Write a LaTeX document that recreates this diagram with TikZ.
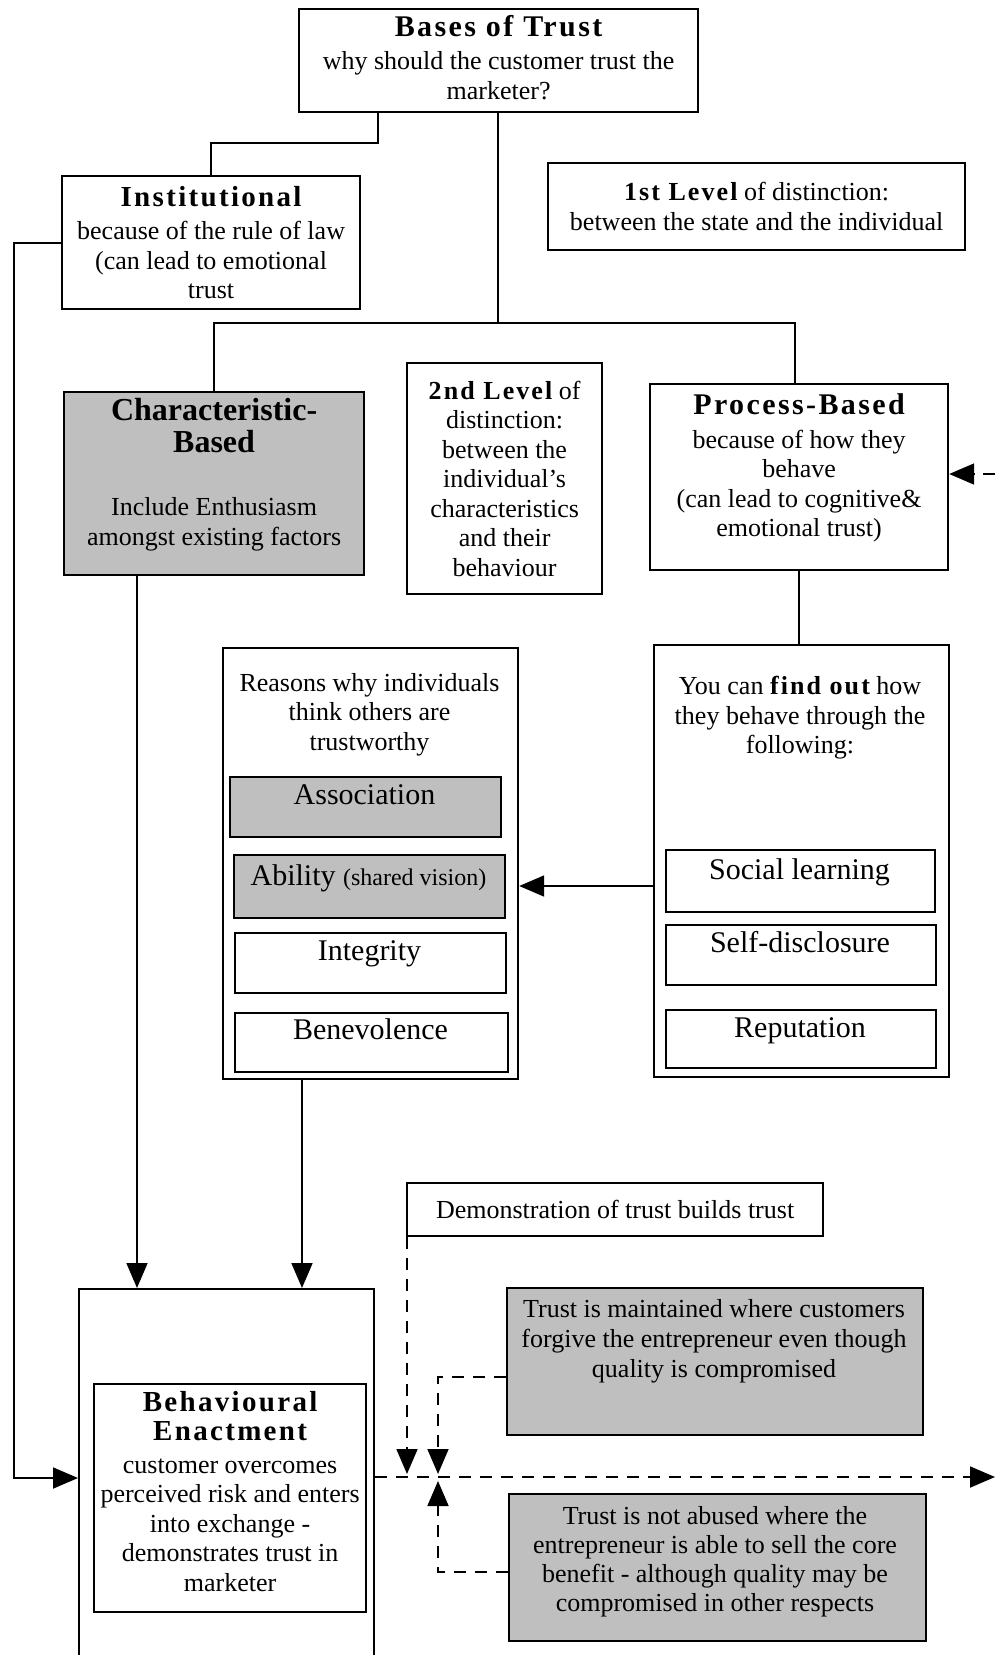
\documentclass[tikz,border=0pt]{standalone}
\usepackage{fontspec}
\setmainfont{Liberation Serif}
\newfontfamily\headfont{Liberation Serif}[LetterSpace=8]
\usetikzlibrary{arrows.meta}
\newcommand\hd[1]{{\headfont\bfseries #1}}
\tikzset{
  box/.style={draw, line width=2.2pt, inner sep=0pt, anchor=north west},
  graybox/.style={box, fill=black!25},
  body/.style={font=\fontsize{26}{29.5}\selectfont, align=center, inner sep=0pt},
  item/.style={font=\fontsize{30}{32}\selectfont, inner sep=0pt, text height=21pt, text depth=6pt},
  conn/.style={line width=1.8pt},
  arr/.style={conn, -{Triangle[length=25pt,width=21pt]}},
  darr/.style={arr, dash pattern=on 12pt off 9pt},
}
\begin{document}
\begin{tikzpicture}[x=1pt,y=-1pt]
\useasboundingbox (0,0) rectangle (995,1655);
\clip (0,0) rectangle (995,1655);

% --- top
\node[box, minimum width=399pt, minimum height=103pt] (bases) at (298,8) {};
\node[body] (basest) at ([yshift=3pt]bases.center)
  {\hd{\fontsize{30}{34}\selectfont Bases of Trust}\\[4pt] why should the customer trust the\\ marketer?};
\node[box, body, minimum width=298pt, minimum height=133pt] (inst) at (61,175)
  {\hd{\fontsize{29}{33}\selectfont Institutional}\\[4pt] because of the rule of law\\ (can lead to emotional\\ trust};
\node[box, body, minimum width=417pt, minimum height=87pt] (lvl1) at (547,162)
  {\hd{1st Level} of distinction:\\ between the state and the individual};

% --- second row
\node[graybox, minimum width=300pt, minimum height=183pt] (char) at (63,391) {};
\node[body] (chart) at ([yshift=9pt]char.center)
  {\bfseries\fontsize{32}{32}\selectfont Characteristic-\\[2pt] \bfseries\fontsize{32}{32}\selectfont Based\\[34pt] Include Enthusiasm\\ amongst existing factors};
\node[box, body, minimum width=195pt, minimum height=231pt] (lvl2) at (406,362)
  {\hd{2nd Level} of\\ distinction:\\ between the\\ individual’s\\ characteristics\\ and their\\ behaviour};
\node[box, minimum width=298pt, minimum height=186pt] (proc) at (649,383) {};
\node[body] (proct) at ([yshift=9pt]proc.center)
  {\hd{\fontsize{30}{34}\selectfont Process-Based}\\[4pt] because of how they\\ behave\\ (can lead to cognitive\&\\ emotional trust)};

% --- reasons column
\node[box, minimum width=295pt, minimum height=431pt] (reasons) at (222,647) {};
\node[body, anchor=north] (reasonst) at (369.5,673)
  {Reasons why individuals\\ think others are\\ trustworthy};
\node[graybox, minimum width=271pt, minimum height=60pt] (assoc) at (229,776) {};
\node[item] (assoct) at (364.5,797) {Association};
\node[graybox, minimum width=271pt, minimum height=63pt] (abil) at (233,854) {};
\node[item] (abilt) at (368.5,878) {Ability {\fontsize{24}{26}\selectfont (shared vision)}};
\node[box, minimum width=271pt, minimum height=60pt] (integ) at (234,932) {};
\node[item] (integt) at (369.5,953) {Integrity};
\node[box, minimum width=273pt, minimum height=59pt] (benev) at (234,1012) {};
\node[item] (benevt) at (370.5,1032) {Benevolence};

% --- find out column
\node[box, minimum width=295pt, minimum height=432pt] (youcan) at (653,644) {};
\node[body, anchor=north] (youcant) at (800,676)
  {You can \hd{find out} how\\ they behave through the\\ following:};
\node[box, minimum width=269pt, minimum height=62pt] (social) at (665,849) {};
\node[item] (socialt) at (799.5,872) {Social learning};
\node[box, minimum width=270pt, minimum height=60pt] (selfd) at (665,924) {};
\node[item] (selfdt) at (800,945) {Self-disclosure};
\node[box, minimum width=270pt, minimum height=58pt] (reput) at (665,1009) {};
\node[item] (reputt) at (800,1030) {Reputation};

% --- bottom
\node[box, body, minimum width=416pt, minimum height=53pt] (demo) at (406,1182)
  {Demonstration of trust builds trust};
\node[box, minimum width=295pt, minimum height=420pt] (outer) at (78,1288) {};
\node[box, minimum width=272pt, minimum height=228pt] (inner) at (93,1383) {};
\node[body] (innert) at ([yshift=7pt]inner.center)
  {\hd{\fontsize{29}{31}\selectfont Behavioural}\\ \hd{\fontsize{29}{31}\selectfont Enactment}\\[3pt]
   customer overcomes\\ perceived risk and enters\\ into exchange -\\ demonstrates trust in\\ marketer};
\node[graybox, minimum width=416pt, minimum height=147pt] (maint) at (506,1287) {};
\node[body, anchor=north, font=\fontsize{26}{30}\selectfont] (maintt) at (714,1299)
  {Trust is maintained where customers\\ forgive the entrepreneur even though\\ quality is compromised};
\node[graybox, minimum width=417pt, minimum height=147pt] (abused) at (508,1493) {};
\node[body, anchor=north, font=\fontsize{26}{29}\selectfont] (abusedt) at (715,1506)
  {Trust is not abused where the\\ entrepreneur is able to sell the core\\ benefit - although quality may be\\ compromised in other respects};

% --- solid connectors
\coordinate (j1) at (378,143);
\draw[conn] (j1 |- bases.south) -- (j1) -- (j1 -| inst.north) -- (inst.north);
\coordinate (j2) at (498,323);
\coordinate (j3) at (795,323);
\draw[conn] (j2 |- bases.south) -- (j2);
\draw[conn] (char.north) -- (char.north |- j2) -- (j3) -- (j3 |- proc.north);
\coordinate (j4) at (14,1478);
\draw[arr] (inst.west) -| (j4) -- (j4 -| outer.west);
\coordinate (xc) at (137,0);
\draw[arr] (xc |- char.south) -- (xc |- outer.north);
\coordinate (xr) at (302,0);
\draw[arr] (xr |- reasons.south) -- (xr |- outer.north);
\draw[conn] (proc.south) -- (proc.south |- youcan.north);
\coordinate (ya) at (0,886);
\draw[arr] (youcan.west |- ya) -- (reasons.east |- ya);

% --- dashed connectors
\coordinate (re1) at (995,474);
\draw[darr] (re1) -- (re1 -| proc.east);
\coordinate (re2) at (995,1477);
\draw[darr] (outer.east |- re2) -- (re2);
\coordinate (m1) at (407,1474);
\draw[darr] (m1 |- demo.south) -- (m1);
\coordinate (k1) at (438,1377);
\coordinate (m2) at (438,1474);
\draw[darr] (maint.west |- k1) -- (k1) -- (m2);
\coordinate (k2) at (438,1572);
\coordinate (m3) at (438,1481);
\draw[darr] (abused.west |- k2) -- (k2) -- (m3);
\end{tikzpicture}
\end{document}
